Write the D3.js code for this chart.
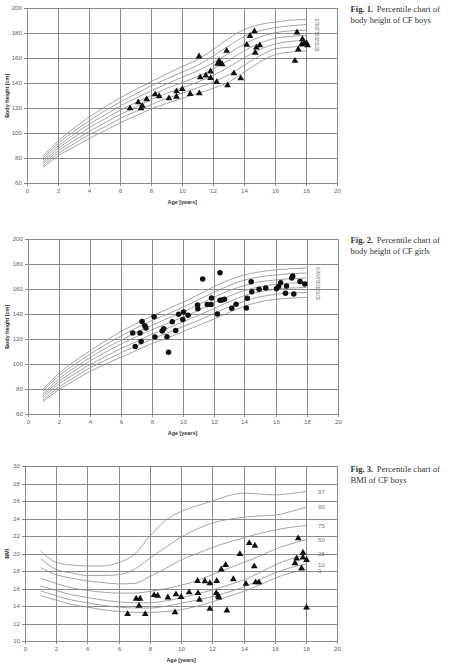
<!DOCTYPE html>
<html>
<head>
<meta charset="utf-8">
<script src="https://cdn.jsdelivr.net/npm/d3@7"></script>
<style>
  body { margin: 0; background: #fff; }
  svg { display: block; }
</style>
</head>
<body>
<div id="chart"></div>
<script>
// ages of the percentile reference curves
const ages = [1, 2, 3, 4, 5, 6, 7, 8, 9, 10, 11, 12, 13, 14, 15, 16, 17, 18];
const percentileNames = ["97", "90", "75", "50", "25", "10", "3"];
const xTicks = [0, 2, 4, 6, 8, 10, 12, 14, 16, 18, 20];
const heightTicks = [60, 80, 100, 120, 140, 160, 180, 200];
const bmiTicks = [10, 12, 14, 16, 18, 20, 22, 24, 26, 28, 30];

// Fig. 1 - body height of boys, percentiles 97..3
const boysHeight97 = [81.5, 94, 104, 113, 121, 128.5, 135, 141.5, 147.5, 153.5, 159, 167, 176, 183, 187, 189, 190.5, 191];
const boysHeight90 = [80, 92, 101.5, 110, 118, 125, 131.5, 138, 143.5, 149, 154.5, 162, 170, 177.5, 182, 184.5, 186, 187];
const boysHeight75 = [78.5, 90, 99, 107.5, 114.5, 122, 128, 134, 139.5, 145, 150, 156.5, 164, 171.5, 177, 180.5, 182, 182.5];
const boysHeight50 = [77, 88, 96.5, 104.5, 111.5, 118.5, 124.5, 130.5, 136, 140.5, 145.5, 151.5, 158.5, 166, 172, 176, 177.5, 178.5];
const boysHeight25 = [75.5, 86, 94, 101.5, 108.5, 115, 121, 127, 132, 136.5, 141, 146.5, 153, 160.5, 167, 171.5, 173.5, 174.5];
const boysHeight10 = [74, 84, 91.5, 99, 105, 112, 117.5, 123, 128, 132, 136.5, 141, 147, 154.5, 162, 167.5, 169, 170];
const boysHeight3 = [72.5, 82, 89, 96, 102, 108.5, 114, 119.5, 124, 128, 132, 136, 141, 149, 157, 163, 165, 166];

// measured CF boys [age, height]
const boysHeightPoints = [
  [6.63, 120], [7.16, 124.8], [7.34, 120], [7.42, 122], [7.7, 127.2], [8.25, 131.2], [8.51, 129.7],
  [9.14, 128], [9.63, 133.6], [9.62, 129.3], [10.0, 135.4], [10.51, 131.5], [11.08, 161.5],
  [11.1, 132], [11.16, 144.8], [11.52, 146.2], [11.82, 149.5], [11.83, 144.2], [12.22, 141],
  [12.28, 155.7], [12.38, 157.9], [12.47, 156], [12.57, 155.3], [12.86, 166], [12.92, 138.4],
  [13.33, 148], [13.77, 144], [14.16, 170.8], [14.37, 177.9], [14.65, 181.6], [14.7, 164.5],
  [14.78, 168.6], [15.0, 170.4], [17.27, 158], [17.4, 180.7], [17.48, 167.1], [17.75, 175.3],
  [17.7, 171.2], [17.86, 172], [18.02, 172], [18.08, 170.4]
];

// Fig. 2 - body height of girls, percentiles 97..3
const girlsHeight97 = [80, 92.5, 102, 110.5, 118.5, 126, 132.5, 138.5, 144, 149.5, 155.5, 162, 167.5, 171.5, 174, 175.5, 176.5, 177];
const girlsHeight90 = [78.5, 90.5, 99.5, 108, 115.5, 122.5, 129, 135, 140, 145.5, 151.5, 157.5, 163, 167.5, 170, 171.5, 172.5, 173];
const girlsHeight75 = [76.5, 88, 97, 105, 112.5, 119, 125.5, 131, 136.5, 141.5, 147.5, 153.5, 159, 163, 166, 167.5, 168.5, 169];
const girlsHeight50 = [75, 86, 94.5, 102.5, 109.5, 116, 122, 127.5, 132.5, 137.5, 143, 149, 154.5, 159, 162, 164, 165, 165.5];
const girlsHeight25 = [73.5, 84, 92, 99.5, 106, 112.5, 118, 124, 128.5, 134, 139, 144.5, 150, 155, 158, 160, 161, 161.5];
const girlsHeight10 = [71.5, 81.5, 89.5, 97, 103, 109, 114.5, 120, 125, 130, 135, 140.5, 146, 150.5, 154, 156, 157, 157.5];
const girlsHeight3 = [70, 79.5, 87, 94, 100, 105.5, 111, 116.5, 121, 126, 131, 136, 141.5, 146.5, 150, 152, 153, 153.5];

// measured CF girls [age, height]
const girlsHeightPoints = [
  [6.79, 125], [6.95, 114.2], [7.26, 125], [7.33, 118.3], [7.39, 134.2], [7.57, 130.8], [7.64, 129],
  [8.17, 138.1], [8.22, 121.9], [8.69, 126.7], [8.79, 128.5], [9.0, 122.1], [9.1, 109.6], [9.34, 134.1],
  [9.56, 127], [9.75, 140], [10.02, 135.8], [10.07, 141.9], [10.36, 139.2], [10.97, 147.5], [10.99, 144.4],
  [11.3, 168.3], [11.6, 147.8], [11.84, 147.8], [11.87, 153.1], [12.25, 140.3], [12.42, 151.2],
  [12.42, 173.2], [12.55, 151.5], [12.71, 152], [13.18, 144.8], [13.46, 148], [14.12, 145], [14.18, 152.8],
  [14.43, 166.1], [14.47, 158], [14.94, 160], [15.37, 161], [16.06, 160.5], [16.2, 162.3], [16.33, 165.3],
  [16.64, 156.8], [16.71, 162.6], [17.05, 169], [17.11, 170.6], [17.18, 156.2], [17.58, 166.2], [17.89, 164.2]
];

// Fig. 3 - BMI of boys, percentiles 97..3
const boysBmi97 = [20.3, 19.0, 18.7, 18.6, 18.6, 19.0, 19.9, 22.0, 23.8, 24.8, 25.45, 26.0, 26.6, 26.9, 26.8, 26.7, 26.85, 27.1];
const boysBmi90 = [19.45, 18.2, 17.8, 17.5, 17.5, 17.6, 18.2, 19.5, 20.7, 21.9, 22.8, 23.5, 23.9, 24.15, 24.3, 24.4, 24.8, 25.3];
const boysBmi75 = [18.4, 17.6, 17.2, 16.9, 16.7, 16.55, 16.6, 17.4, 18.3, 19.3, 20.0, 20.7, 21.3, 21.8, 22.3, 22.7, 23.0, 23.2];
const boysBmi50 = [17.2, 16.6, 16.1, 15.8, 15.6, 15.5, 15.5, 15.7, 16.0, 16.4, 16.9, 17.6, 18.3, 19.0, 19.7, 20.5, 21.1, 21.6];
const boysBmi25 = [16.3, 15.8, 15.3, 15.0, 14.7, 14.5, 14.4, 14.4, 14.6, 14.95, 15.4, 15.85, 16.4, 17.0, 17.8, 18.7, 19.4, 19.9];
const boysBmi10 = [15.75, 15.2, 14.7, 14.4, 14.1, 13.9, 13.8, 13.8, 14.0, 14.35, 14.7, 15.1, 15.6, 16.2, 17.0, 17.8, 18.4, 18.8];
const boysBmi3 = [15.2, 14.7, 14.2, 13.9, 13.6, 13.4, 13.3, 13.3, 13.4, 13.6, 14.0, 14.5, 15.1, 15.7, 16.4, 17.2, 17.8, 18.2];
// where the right-hand percentile names sit (BMI units)
const boysBmiLabelAt = [27.1, 25.3, 23.2, 21.6, 20.0, 18.75, 18.0];

// measured CF boys [age, BMI]
const boysBmiPoints = [
  [6.57, 13.1], [7.12, 14.85], [7.37, 14.85], [7.3, 14.05], [7.7, 13.1], [8.27, 15.27], [8.5, 15.2],
  [9.15, 15.0], [9.61, 13.3], [9.67, 15.36], [10.0, 15.05], [10.51, 15.58], [11.05, 16.88], [11.08, 15.5],
  [11.17, 14.75], [11.52, 16.85], [11.84, 16.62], [11.84, 13.7], [12.28, 16.88], [12.25, 15.5],
  [12.38, 15.2], [12.42, 15.0], [12.57, 18.2], [12.85, 18.7], [12.93, 13.52], [13.34, 17.08],
  [13.76, 19.95], [14.15, 16.56], [14.36, 21.2], [14.68, 18.55], [14.72, 20.9], [14.77, 16.72],
  [14.98, 16.72], [17.29, 18.9], [17.4, 19.45], [17.5, 21.75], [17.71, 18.33], [17.8, 20.1],
  [17.8, 19.55], [18.03, 19.28], [18.03, 13.84]
];

const W = 468, H = 666;
const svg = d3.select("#chart").append("svg")
  .attr("width", W)
  .attr("height", H)
  .attr("viewBox", [0, 0, W, H]);
svg.append("rect").attr("width", W).attr("height", H).attr("fill", "#fff");

const sans = "Arial, 'Liberation Sans', sans-serif";
const serif = "'Liberation Serif', 'Times New Roman', serif";

function drawPanel({
  left, right, top, bottom, yDomain, yTicks, yLabel, curves, points, marker,
  rotatedLabels = false, labelAt, caption, captionY
}) {
  const x = d3.scaleLinear([0, 20], [left, right]);
  const y = d3.scaleLinear(yDomain, [bottom, top]);
  // rounded copies keep the grid on whole pixels
  const xGrid = x.copy().interpolate(d3.interpolateRound);
  const yGrid = y.copy().interpolate(d3.interpolateRound);
  const g = svg.append("g");
  const gl = Math.round(left), gr = Math.round(right), gt = Math.round(top), gb = Math.round(bottom);

  // horizontal grid + y axis
  g.append("g")
    .attr("transform", `translate(${gl},0)`)
    .call(d3.axisLeft(yGrid).tickValues(yTicks).tickSizeInner(-(gr - gl)).tickSizeOuter(0).tickPadding(5))
    .call(g => g.select(".domain").remove())
    .call(g => g.selectAll(".tick line").attr("x1", -3).attr("stroke", "#8a8a8a"))
    .call(g => g.selectAll(".tick text")
      .attr("font-size", 6.2).attr("font-family", sans).attr("fill", "#666"));

  // vertical grid + x axis
  g.append("g")
    .attr("transform", `translate(0,${gb})`)
    .call(d3.axisBottom(xGrid).tickValues(xTicks).tickSizeInner(-(gb - gt)).tickSizeOuter(0).tickPadding(6))
    .call(g => g.select(".domain").remove())
    .call(g => g.selectAll(".tick line").attr("y1", 3).attr("stroke", "#8a8a8a"))
    .call(g => g.selectAll(".tick text")
      .attr("font-size", 6.2).attr("font-family", sans).attr("fill", "#666"));

  // axis titles
  g.append("text")
    .attr("x", (left + right) / 2)
    .attr("y", bottom + 21)
    .attr("text-anchor", "middle")
    .attr("font-family", sans).attr("font-size", 5.4).attr("font-weight", "bold").attr("fill", "#333")
    .text("Age [years]");
  g.append("text")
    .attr("transform", `translate(8.5,${(top + bottom) / 2}) rotate(-90)`)
    .attr("text-anchor", "middle")
    .attr("font-family", sans).attr("font-size", 5.4).attr("font-weight", "bold").attr("fill", "#333")
    .text(yLabel);

  // percentile curves
  const line = d3.line()
    .x((d, i) => x(ages[i]))
    .y(d => y(d))
    .curve(d3.curveMonotoneX);
  g.append("g")
    .selectAll("path")
    .data(curves)
    .join("path")
    .attr("d", line)
    .attr("fill", "none")
    .attr("stroke", "#8d8d8d")
    .attr("stroke-width", 0.8);

  // percentile names at the right
  if (rotatedLabels) {
    g.append("g")
      .selectAll("text")
      .data(percentileNames)
      .join("text")
      .attr("transform", (d, i) => `translate(${x(18) + 11},${y(curves[0][17]) - 1 + i * 5}) rotate(90)`)
      .attr("font-family", sans).attr("font-size", 5.2).attr("fill", "#777")
      .attr("dy", "0.35em")
      .text(d => d);
  } else {
    g.append("g")
      .selectAll("text")
      .data(percentileNames)
      .join("text")
      .attr("x", x(18) + 12)
      .attr("y", (d, i) => y(labelAt[i]))
      .attr("dy", "0.35em")
      .attr("font-family", sans).attr("font-size", 6).attr("fill", "#777")
      .text(d => d);
  }

  // measured values
  const sym = marker === "circle" ? d3.symbol(d3.symbolCircle, 24) : d3.symbol(d3.symbolTriangle, 20);
  g.append("g")
    .selectAll("path")
    .data(points)
    .join("path")
    .attr("transform", d => `translate(${x(d[0])},${y(d[1])})`)
    .attr("d", sym)
    .attr("fill", "#111");

  // caption, two lines at the right
  const line1 = g.append("text")
    .attr("x", 350.5).attr("y", captionY)
    .attr("font-family", serif).attr("font-size", 8.6).attr("fill", "#333");
  line1.append("tspan").attr("font-weight", "bold").text(caption[0]);
  line1.append("tspan").attr("dx", 1.5).text(" " + caption[1]);
  g.append("text")
    .attr("x", 350.5).attr("y", captionY + 11)
    .attr("font-family", serif).attr("font-size", 8.5).attr("fill", "#333")
    .text(caption[2]);
}

drawPanel({
  left: 27.3, right: 337.3, top: 8.3, bottom: 183.3,
  yDomain: [60, 200], yTicks: heightTicks, yLabel: "Body height [cm]",
  curves: [boysHeight97, boysHeight90, boysHeight75, boysHeight50, boysHeight25, boysHeight10, boysHeight3],
  points: boysHeightPoints, marker: "triangle", rotatedLabels: true,
  caption: ["Fig. 1.", "Percentile chart of", "body height of CF boys"], captionY: 11.5
});

drawPanel({
  left: 27.5, right: 337.5, top: 239.3, bottom: 414.3,
  yDomain: [60, 200], yTicks: heightTicks, yLabel: "Body height [cm]",
  curves: [girlsHeight97, girlsHeight90, girlsHeight75, girlsHeight50, girlsHeight25, girlsHeight10, girlsHeight3],
  points: girlsHeightPoints, marker: "circle", rotatedLabels: true,
  caption: ["Fig. 2.", "Percentile chart of", "body height of CF girls"], captionY: 242.5
});

drawPanel({
  left: 25, right: 337.3, top: 466, bottom: 641.3,
  yDomain: [10, 30], yTicks: bmiTicks, yLabel: "BMI",
  curves: [boysBmi97, boysBmi90, boysBmi75, boysBmi50, boysBmi25, boysBmi10, boysBmi3],
  points: boysBmiPoints, marker: "triangle", labelAt: boysBmiLabelAt,
  caption: ["Fig. 3.", "Percentile chart of", "BMI of CF boys"], captionY: 472
});
</script>
</body>
</html>
